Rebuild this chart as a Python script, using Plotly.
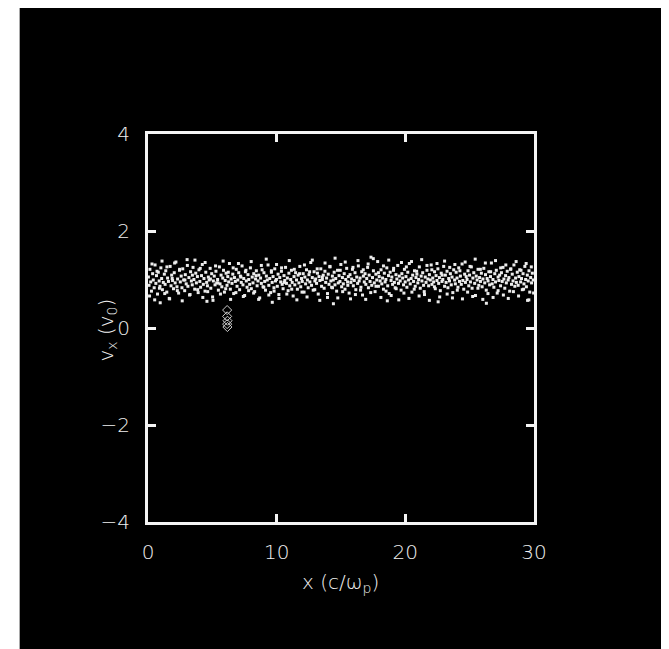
import plotly.graph_objects as go

# ---------------- data ----------------
x_beam = [
0.03,0.08,0.15,0.21,0.27,0.36,0.41,0.48,0.55,0.61,0.66,0.74,0.80,0.87,0.93,1.00,1.06,1.12,1.19,1.27,
1.33,1.38,1.46,1.52,1.59,1.65,1.72,1.79,1.84,1.91,1.98,2.04,2.11,2.17,2.25,2.30,2.38,2.45,2.51,2.58,
2.64,2.70,2.77,2.85,2.90,2.97,3.04,3.10,3.18,3.23,3.31,3.37,3.44,3.50,3.57,3.63,3.71,3.76,3.84,3.90,
3.96,4.03,4.09,4.16,4.22,4.30,4.35,4.43,4.49,4.56,4.62,4.69,4.75,4.83,4.88,4.95,5.02,5.08,5.15,5.21,
5.28,5.34,5.41,5.47,5.55,5.60,5.68,5.74,5.81,5.87,5.94,6.00,6.07,6.14,6.20,6.27,6.33,6.40,6.46,6.53,
6.59,6.66,6.72,6.79,6.86,6.92,6.98,7.05,7.12,7.18,7.25,7.31,7.38,7.44,7.51,7.57,7.64,7.70,7.77,7.83,
7.90,7.96,8.03,8.10,8.16,8.22,8.29,8.36,8.42,8.48,8.55,8.61,8.68,8.75,8.81,8.87,8.94,9.01,9.07,9.13,
9.20,9.27,9.33,9.39,9.46,9.53,9.59,9.65,9.72,9.79,9.85,9.91,9.98,10.05,10.11,10.17,10.24,10.31,10.37,10.43,
10.50,10.57,10.63,10.69,10.76,10.83,10.89,10.95,11.02,11.09,11.15,11.21,11.28,11.35,11.41,11.47,11.54,11.61,11.67,11.73,
11.80,11.87,11.93,11.99,12.06,12.13,12.19,12.25,12.32,12.39,12.45,12.51,12.58,12.65,12.71,12.77,12.84,12.91,12.97,13.03,
13.10,13.17,13.23,13.29,13.36,13.43,13.49,13.55,13.62,13.69,13.75,13.81,13.88,13.95,14.01,14.07,14.14,14.21,14.27,14.33,
14.40,14.47,14.53,14.59,14.66,14.73,14.79,14.85,14.92,14.99,15.05,15.11,15.18,15.25,15.31,15.37,15.44,15.51,15.57,15.63,
15.70,15.77,15.83,15.89,15.96,16.03,16.09,16.15,16.22,16.29,16.35,16.41,16.48,16.55,16.61,16.67,16.74,16.81,16.87,16.93,
17.00,17.07,17.13,17.19,17.26,17.33,17.39,17.45,17.52,17.59,17.65,17.71,17.78,17.85,17.91,17.97,18.04,18.11,18.17,18.23,
18.30,18.37,18.43,18.49,18.56,18.63,18.69,18.75,18.82,18.89,18.95,19.01,19.08,19.15,19.21,19.27,19.34,19.41,19.47,19.53,
19.60,19.67,19.73,19.79,19.86,19.93,19.99,20.05,20.12,20.19,20.25,20.31,20.38,20.45,20.51,20.57,20.64,20.71,20.77,20.83,
20.90,20.97,21.03,21.09,21.16,21.23,21.29,21.35,21.42,21.49,21.55,21.61,21.68,21.75,21.81,21.87,21.94,22.01,22.07,22.13,
22.20,22.27,22.33,22.39,22.46,22.53,22.59,22.65,22.72,22.79,22.85,22.91,22.98,23.05,23.11,23.17,23.24,23.31,23.37,23.43,
23.50,23.57,23.63,23.69,23.76,23.83,23.89,23.95,24.02,24.09,24.15,24.21,24.28,24.35,24.41,24.47,24.54,24.61,24.67,24.73,
24.80,24.87,24.93,24.99,25.06,25.13,25.19,25.25,25.32,25.39,25.45,25.51,25.58,25.65,25.71,25.77,25.84,25.91,25.97,26.03,
26.10,26.17,26.23,26.29,26.36,26.43,26.49,26.55,26.62,26.69,26.75,26.81,26.88,26.95,27.01,27.07,27.14,27.21,27.27,27.33,
27.40,27.47,27.53,27.59,27.66,27.73,27.79,27.85,27.92,27.99,28.05,28.11,28.18,28.25,28.31,28.37,28.44,28.51,28.57,28.63,
28.70,28.77,28.83,28.89,28.96,29.03,29.09,29.15,29.22,29.29,29.35,29.41,29.48,29.55,29.61,29.67,29.74,29.81,29.87,29.94,
0.12,0.31,0.52,0.70,0.89,1.09,1.30,1.47,1.68,1.88,2.07,2.28,2.46,2.66,2.87,3.06,3.27,3.45,3.65,3.86,
4.06,4.26,4.44,4.64,4.85,5.05,5.25,5.43,5.63,5.84,6.04,6.24,6.42,6.62,6.83,7.03,7.22,7.41,7.61,7.82,
8.02,8.21,8.40,8.60,8.81,9.00,9.19,9.39,9.59,9.80,9.99,10.18,10.38,10.58,10.79,10.98,11.17,11.37,11.57,11.78,
11.97,12.16,12.36,12.56,12.77,12.96,13.15,13.35,13.55,13.76,13.95,14.14,14.34,14.54,14.75,14.94,15.13,15.33,15.53,15.74,
15.93,16.12,16.32,16.52,16.73,16.92,17.11,17.31,17.51,17.72,17.91,18.10,18.30,18.50,18.71,18.90,19.09,19.29,19.49,19.70,
19.89,20.08,20.28,20.48,20.69,20.88,21.07,21.27,21.47,21.68,21.87,22.06,22.26,22.46,22.67,22.86,23.05,23.25,23.45,23.66,
23.85,24.04,24.24,24.44,24.65,24.84,25.03,25.23,25.43,25.64,25.83,26.02,26.22,26.42,26.63,26.82,27.01,27.21,27.41,27.62,
27.81,28.00,28.20,28.40,28.61,28.80,28.99,29.19,29.39,29.60,29.79,29.97,0.95,4.58,9.66,14.41,18.60,22.55,26.30,29.50,
]
vx_beam = [
1.05,0.88,1.21,0.95,0.76,1.12,0.99,0.83,1.30,0.92,1.08,0.70,1.15,0.97,0.86,1.24,1.02,0.79,0.94,1.11,
0.90,1.18,0.74,1.03,0.96,0.61,1.27,0.87,1.09,0.98,0.81,1.14,0.93,1.36,0.85,1.01,0.72,1.19,0.95,1.07,
0.83,1.22,0.99,0.77,1.10,0.91,1.41,0.86,1.04,0.68,1.16,0.97,0.89,1.25,1.00,0.80,1.13,0.93,1.06,0.73,
1.20,0.96,0.84,1.08,1.31,0.90,1.02,0.76,1.15,0.94,0.87,1.05,0.99,1.23,0.82,1.12,0.64,0.97,1.07,0.89,
1.17,0.93,1.00,0.78,1.26,0.91,1.09,0.85,1.03,1.19,0.74,0.98,1.13,0.88,1.06,0.95,1.33,0.80,1.01,0.92,
1.11,0.71,1.04,0.96,1.21,0.86,0.99,1.14,0.79,1.07,0.94,1.28,0.89,1.02,0.67,1.16,0.97,0.84,1.10,1.00,
0.90,1.24,0.81,1.05,0.93,1.12,0.75,1.01,1.18,0.87,0.97,1.09,0.62,1.03,0.92,1.20,0.85,1.14,0.96,0.78,
1.07,0.99,1.30,0.88,1.02,0.73,1.15,0.94,1.06,0.83,1.22,0.97,1.00,0.86,1.11,0.69,1.04,0.95,1.17,0.90,
0.81,1.08,0.98,1.25,0.92,1.03,0.77,1.13,0.87,1.00,1.19,0.94,0.66,1.06,0.89,1.14,0.99,0.80,1.09,0.93,
1.27,0.85,1.02,0.96,1.12,0.74,1.05,0.91,1.20,0.99,0.83,1.10,0.95,1.35,0.88,1.04,0.78,1.16,0.97,1.01,
0.92,1.13,0.70,1.06,0.98,1.22,0.86,1.00,1.09,0.82,1.17,0.94,1.03,0.63,1.11,0.90,1.26,0.97,0.84,1.07,
0.99,1.15,0.89,1.02,0.76,1.19,0.93,1.08,0.96,1.31,0.85,1.04,0.91,1.12,0.80,1.00,1.23,0.95,1.06,0.72,
1.10,0.94,1.01,1.21,0.87,0.98,1.14,0.79,1.05,0.92,1.28,0.97,1.03,0.84,1.16,0.68,1.07,0.95,1.12,0.90,
1.02,1.25,0.83,1.09,0.96,1.46,0.88,1.04,1.18,0.93,0.75,1.11,0.99,1.37,0.86,1.06,0.97,1.20,0.91,1.03,
0.80,1.13,0.95,1.00,1.24,0.87,1.08,0.71,1.15,0.98,1.05,0.90,1.19,0.94,0.83,1.10,1.01,1.29,0.92,1.07,
0.97,0.78,1.12,1.03,0.89,1.21,0.95,1.06,0.84,1.15,0.99,1.33,0.91,1.02,0.74,1.09,0.96,1.18,0.86,1.04,
1.11,0.93,1.00,1.26,0.82,1.07,0.97,1.14,0.88,0.69,1.05,0.94,1.19,1.01,0.87,1.10,0.99,1.30,0.90,1.03,
0.95,1.16,0.81,1.08,0.98,1.22,0.92,1.04,0.77,1.13,0.96,1.00,1.27,0.86,1.09,0.94,1.17,0.83,1.02,0.97,
1.12,0.89,1.05,0.73,1.20,0.99,0.91,1.15,1.03,0.84,1.24,0.96,1.07,0.90,1.32,0.98,0.80,1.11,0.94,1.06,
1.00,1.18,0.87,1.09,0.95,1.26,0.82,1.03,1.14,0.92,0.67,1.07,0.99,1.21,0.88,1.04,0.96,1.13,0.85,1.01,
1.23,0.93,1.10,0.78,1.02,0.97,1.16,0.89,1.06,1.34,0.91,1.00,0.84,1.12,0.95,1.19,0.72,1.05,0.98,1.09,
0.87,1.14,0.96,1.25,1.01,0.82,1.08,0.93,1.17,0.99,1.04,0.76,1.21,0.90,1.11,0.97,1.30,0.86,1.03,0.94,
1.15,0.88,1.06,1.20,0.95,1.02,0.79,1.12,0.91,1.27,1.00,0.85,1.09,0.97,1.18,0.74,1.04,0.93,1.13,0.99,
0.66,1.32,0.58,1.17,0.82,1.38,0.71,1.26,0.60,1.02,1.34,0.77,1.21,0.56,0.99,1.29,0.69,1.09,1.40,0.79,
1.23,0.63,1.35,0.75,1.01,0.57,1.28,0.93,0.70,1.38,0.81,1.15,0.59,1.24,0.73,1.33,1.05,0.65,1.19,0.77,
1.37,0.72,1.08,0.59,1.29,0.84,1.42,0.68,1.18,0.76,1.31,0.61,1.24,0.94,0.70,1.39,0.80,1.21,0.58,1.12,
0.74,1.30,0.64,1.16,1.40,0.79,1.22,0.57,1.05,1.34,0.71,1.27,0.83,1.44,0.62,1.19,0.75,1.36,0.88,0.60,
1.25,0.69,1.39,0.78,1.20,0.59,1.32,0.73,1.43,0.86,1.14,0.63,1.28,0.76,1.40,0.67,1.23,0.81,0.58,1.35,
0.72,1.26,0.61,1.37,0.80,1.17,0.66,1.41,0.75,1.29,0.57,1.20,0.85,1.33,0.64,1.09,1.38,0.70,1.25,0.62,
1.31,0.78,1.18,0.60,1.36,0.74,1.27,0.65,1.42,0.82,1.21,0.59,1.34,0.71,1.16,0.63,1.39,0.77,1.24,0.68,
1.30,0.61,1.22,0.75,1.37,0.66,1.19,0.80,1.33,0.58,1.26,0.72,0.52,0.55,0.53,0.50,0.56,0.54,0.51,0.57,
]

# tracked particles (open diamonds near x ~ 6)
x_track = [6.15, 6.15, 6.18, 6.15, 6.17]
vx_track = [0.37, 0.24, 0.15, 0.08, 0.02]

x_ticks = [0, 10, 20, 30]
y_ticks = [-4, -2, 0, 2, 4]

# ---------------- figure ----------------
# page has an 8 px body margin, so the figure is laid out in its own coords
W, H = 661, 641
L, R, T, B = 139.5, 135, 126, 127
pw, ph = W - L - R, H - T - B
bottom_y = H - B  # figure-pixel y of plot bottom

def px_x(px):
    return (px - L) / pw

def px_y(py):
    return (bottom_y - py) / ph

fig = go.Figure()
fig.add_trace(go.Scatter(
    x=x_beam, y=vx_beam, mode="markers",
    marker=dict(symbol="square", size=3, color="#ececec", line=dict(width=0)),
    hoverinfo="skip", showlegend=False))
fig.add_trace(go.Scatter(
    x=x_track, y=vx_track, mode="markers",
    marker=dict(symbol="diamond-open", size=7, color="#cfcfcf", line=dict(width=1)),
    hoverinfo="skip", showlegend=False))

font = dict(family="DejaVu Sans, sans-serif", size=20, color="#f0f0f0", weight=300)
axis_common = dict(
    showline=True, linewidth=3, linecolor="#f4f4f4", mirror="allticks",
    ticks="inside", ticklen=8, tickwidth=3, tickcolor="#f4f4f4",
    showgrid=False, zeroline=False, tickfont=font,
)

fig.update_layout(
    width=W, height=H,
    margin=dict(l=L, r=R, t=T, b=B, pad=0),
    paper_bgcolor="#000000", plot_bgcolor="#000000",
    xaxis=dict(range=[0, 30], tickvals=x_ticks, ticklabelstandoff=10, **axis_common),
    yaxis=dict(range=[-4, 4], tickvals=y_ticks, ticklabelstandoff=11, **axis_common),
    annotations=[
        dict(text="x (c/ω<sub>p</sub>)", xref="paper", yref="paper",
             x=px_x(332), y=px_y(575), xanchor="center", yanchor="middle",
             showarrow=False, font=font),
        dict(text="v<sub>x</sub> (v<sub>0</sub>)", xref="paper", yref="paper",
             x=px_x(98), y=px_y(322), xanchor="center", yanchor="middle",
             textangle=-90, showarrow=False, font=font),
    ],
    shapes=[
        dict(type="rect", xref="paper", yref="paper", layer="above",
             x0=px_x(-2), x1=px_x(11), y0=px_y(H + 2), y1=px_y(-2),
             fillcolor="#ffffff", line=dict(width=0)),
    ],
)

fig.write_html("out.html")
